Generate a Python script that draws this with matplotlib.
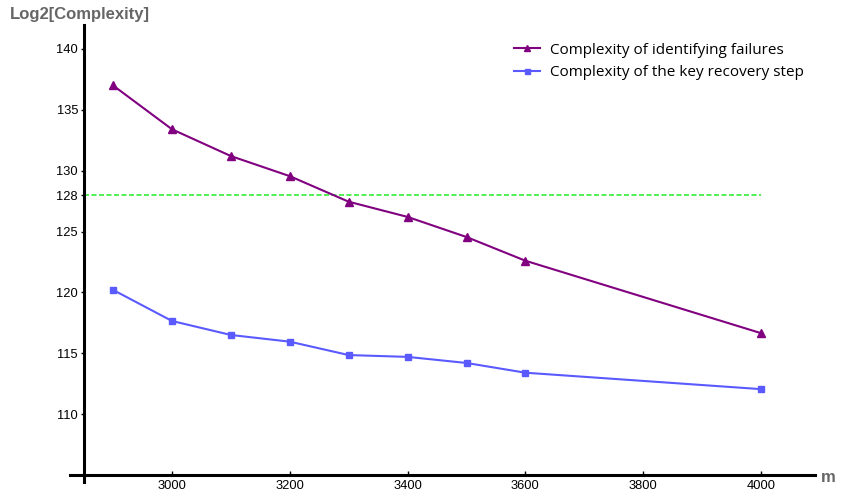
import matplotlib
matplotlib.use("Agg")
import matplotlib.pyplot as plt

# data
m_values = [2900, 3000, 3100, 3200, 3300, 3400, 3500, 3600, 4000]
identify_failures = [137.0, 133.4, 131.2, 129.55, 127.45, 126.2, 124.55, 122.6, 116.65]
key_recovery = [120.2, 117.65, 116.5, 115.95, 114.85, 114.7, 114.2, 113.4, 112.05]
threshold = 128
y_ticks = [110, 115, 120, 125, 128, 130, 135, 140]
x_ticks = [3000, 3200, 3400, 3600, 3800, 4000]

plt.rcParams['font.family'] = ['Liberation Sans', 'DejaVu Sans']

fig = plt.figure(figsize=(8.41, 5.0), dpi=100)
# axes box in pixels: x 70..815, y 25..482 (from top)
ax = fig.add_axes([70 / 841, 1 - 482 / 500, 745 / 841, 457 / 500])
ax.set_xlim(2826.8, 4091.7)
ax.set_ylim(104.42, 141.97)

ax.plot([2850, 4000], [threshold, threshold], color='#33ee33', lw=1.2,
        linestyle=(0, (3, 1.5)), zorder=1)
ax.plot(m_values, identify_failures, color='#800080', lw=1.5, marker='^',
        markersize=6, label='Complexity of identifying failures', zorder=3)
ax.plot(m_values, key_recovery, color='#5a5aff', lw=1.5, marker='s',
        markersize=4.5, label='Complexity of the key recovery step', zorder=3)

# Mathematica style axes crossing at (2850, 105)
for s in ['top', 'right']:
    ax.spines[s].set_visible(False)
ax.spines['left'].set_position(('data', 2850))
ax.spines['bottom'].set_position(('data', 105))
ax.spines['left'].set_linewidth(2.2)
ax.spines['bottom'].set_linewidth(2.2)
ax.spines['left'].set_bounds(104.42, 141.97)
ax.spines['bottom'].set_bounds(2826.8, 4091.7)

ax.set_xticks(x_ticks)
ax.set_yticks(y_ticks)
ax.tick_params(axis='x', direction='in', length=3, width=1.0, labelsize=9.3, pad=4)
ax.tick_params(axis='y', direction='out', length=2, width=1.0, labelsize=9.3, pad=2)

ax.text(0.012, 0.972, 'Log2[Complexity]', transform=fig.transFigure,
        fontsize=12, fontweight='bold', color='#666666', va='center', ha='left')
ax.text(821 / 841, 1 - 478 / 500, 'm', transform=fig.transFigure,
        fontsize=12, fontweight='bold', color='#666666', va='center', ha='left')

leg = ax.legend(loc='upper left', bbox_to_anchor=(500 / 841, 1 - 29 / 500),
                bbox_transform=fig.transFigure, frameon=False,
                prop={'family': 'Open Sans', 'size': 11}, handlelength=1.75,
                handletextpad=0.65, labelspacing=0.5, markerscale=0.8)

fig.savefig('out.png', dpi=100)
